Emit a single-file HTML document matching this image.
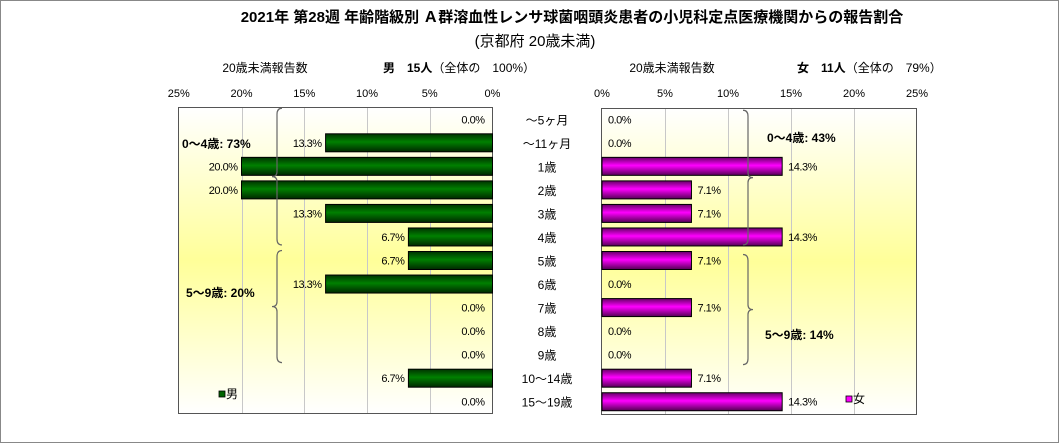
<!DOCTYPE html>
<html><head><meta charset="utf-8"><style>
body{margin:0;background:#fff;}
svg{display:block;font-family:"Liberation Sans","Noto Sans CJK JP",sans-serif;}
</style></head><body>
<svg id="c" width="1059" height="443" viewBox="0 0 1059 443">
<defs>
<linearGradient id="bg" x1="0" y1="0" x2="0" y2="1">
<stop offset="0" stop-color="#ffffff"/><stop offset="0.5" stop-color="#ffff99"/><stop offset="1" stop-color="#ffffff"/></linearGradient>
<linearGradient id="gm" x1="0" y1="0" x2="0" y2="1">
<stop offset="0" stop-color="#003300"/><stop offset="0.45" stop-color="#008000"/><stop offset="1" stop-color="#002800"/></linearGradient>
<linearGradient id="gf" x1="0" y1="0" x2="0" y2="1">
<stop offset="0" stop-color="#660066"/><stop offset="0.45" stop-color="#ff00ff"/><stop offset="1" stop-color="#550055"/></linearGradient>
</defs>
<rect x="0.5" y="0.5" width="1058" height="442" fill="#fff" stroke="#888"/>
<text x="572" y="22" font-size="15" font-weight="bold" text-anchor="middle">2021年 第28週 年齢階級別 Ａ群溶血性レンサ球菌咽頭炎患者の小児科定点医療機関からの報告割合</text>
<text x="535" y="46" font-size="15" text-anchor="middle">(京都府 20歳未満)</text>
<text x="265" y="72" font-size="12" text-anchor="middle">20歳未満報告数</text>
<text x="383" y="72" font-size="12"><tspan font-weight="bold">男　15人</tspan>（全体の　100%）</text>
<text x="672" y="72" font-size="12" text-anchor="middle">20歳未満報告数</text>
<text x="797" y="72" font-size="12"><tspan font-weight="bold">女　11人</tspan>（全体の　79%）</text>
<rect x="178.5" y="107.5" width="314" height="306" fill="url(#bg)" stroke="#555"/>
<rect x="601.5" y="108.5" width="315" height="306" fill="url(#bg)" stroke="#555"/>
<g id="grid"></g><g id="bars"></g>
</svg>
<script>
const categories=["～5ヶ月","～11ヶ月","1歳","2歳","3歳","4歳","5歳","6歳","7歳","8歳","9歳","10～14歳","15～19歳"];
const maleValues=[0,13.3,20,20,13.3,6.7,6.7,13.3,0,0,0,6.7,0];
const femaleValues=[0,0,14.3,7.1,7.1,14.3,7.1,0,7.1,0,0,7.1,14.3];
const tickValues=[0,5,10,15,20,25];
const tickLabels=["0%","5%","10%","15%","20%","25%"];
const NS="http://www.w3.org/2000/svg";
const svg=document.getElementById('c');
const G=document.getElementById('grid'),B=document.getElementById('bars');
const xm=v=>492.5-v*12.55;
const xf=v=>602-v*(-12.6);
const top0=107.5,rowH=306/13;
const yc=i=>top0+rowH*(i+0.5);
function mk(tag,attrs,parent,txt){const e=document.createElementNS(NS,tag);for(const k in attrs)e.setAttribute(k,attrs[k]);if(txt!==undefined)e.textContent=txt;(parent||svg).appendChild(e);return e;}
tickValues.forEach((t,i)=>{
  let e=mk('text',{x:xm(t),y:97,'font-size':11,'text-anchor':'middle'},G,tickLabels[i]);
  
  
  e=mk('text',{x:xf(t),y:97,'font-size':11,'text-anchor':'middle'},G,tickLabels[i]);
  
  
  if(t>0&&t<25){
    e=mk('line',{x1:Math.round(xm(t))+0.5,x2:Math.round(xm(t))+0.5,y1:108,y2:413,stroke:'#c8c8c8'},G);
    
    
    e=mk('line',{x1:Math.round(xf(t))+0.5,x2:Math.round(xf(t))+0.5,y1:109,y2:414,stroke:'#c8c8c8'},G);
    
    
  }
});
categories.forEach((c,i)=>{
  const y=yc(i);
  let e=mk('text',{x:547,y:y+5,'font-size':12,'text-anchor':'middle'},B,c);
  
  
  const mv=maleValues[i];
  if(mv>0){
    e=mk('rect',{x:xm(mv),y:y-9,width:xm(0)-xm(mv),height:18,fill:'url(#gm)',stroke:'#000','stroke-width':1},B);
    
    
  }
  e=mk('text',{x:(mv>0?xm(mv)-4:xm(0)-8),y:y+4,'font-size':11,'text-anchor':'end','letter-spacing':'-0.5'},B,mv.toFixed(1)+'%');
  
  
  const fv=femaleValues[i];
  if(fv>0){
    e=mk('rect',{x:xf(0),y:y-9,width:xf(fv)-xf(0),height:18,fill:'url(#gf)',stroke:'#000','stroke-width':1},B);
    
    
  }
  e=mk('text',{x:(fv>0?xf(fv)+6:xf(0)+6),y:y+4,'font-size':11,'letter-spacing':'-0.5'},B,fv.toFixed(1)+'%');
  
  
});
function brace(x,y1,y2,dir,name){
  const m=(y1+y2)/2,d=dir*5;
  const p=`M${x+d},${y1} Q${x},${y1} ${x},${y1+6} L${x},${m-5} Q${x},${m} ${x-d},${m} Q${x},${m} ${x},${m+5} L${x},${y2-6} Q${x},${y2} ${x+d},${y2}`;
  const e=mk('path',{d:p,fill:'none',stroke:'#666','stroke-width':1.2},B);
  
  
}
brace(277,yc(0)-11,yc(5)+8,1,'male-0-4-brace');
brace(277,yc(6)-10,yc(10)+8,1,'male-5-9-brace');
brace(748,yc(0)-9,yc(5)+8,-1,'female-0-4-brace');
brace(748,yc(6)-6,yc(10)+10,-1,'female-5-9-brace');
let t=mk('text',{x:182,y:yc(1)+5,'font-size':12,'font-weight':'bold'},B,'0～4歳: 73%');


t=mk('text',{x:186,y:yc(7)+13,'font-size':12,'font-weight':'bold'},B,'5～9歳: 20%');


t=mk('text',{x:767,y:yc(1)-1,'font-size':12,'font-weight':'bold'},B,'0～4歳: 43%');


t=mk('text',{x:765,y:yc(9)+8,'font-size':12,'font-weight':'bold'},B,'5～9歳: 14%');


let r=mk('rect',{x:219,y:391,width:6,height:6,fill:'#006400',stroke:'#000','stroke-width':0.8},B);


t=mk('text',{x:226,y:398,'font-size':12},B,'男');


r=mk('rect',{x:846,y:396,width:6,height:6,fill:'#ff00ff',stroke:'#000','stroke-width':0.8},B);


t=mk('text',{x:853,y:403,'font-size':12},B,'女');


</script>
</body></html>
